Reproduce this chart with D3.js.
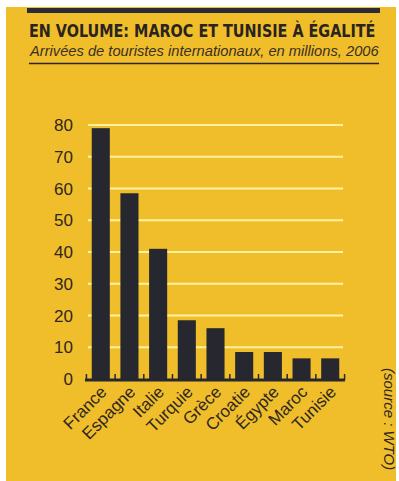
<!DOCTYPE html>
<html lang="fr">
<head>
<meta charset="UTF-8">
<script src="https://d3js.org/d3.v7.min.js"></script>
<style>
  body { margin: 0; background: #fff; }
  svg { display: block; }
</style>
</head>
<body>
<svg id="chart"></svg>
<script>
const countries = ["France", "Espagne", "Italie", "Turquie", "Grèce", "Croatie", "Égypte", "Maroc", "Tunisie"];
const arrivals = [79, 58.5, 41, 18.5, 16, 8.5, 8.5, 6.5, 6.5];
const yTicks = [0, 10, 20, 30, 40, 50, 60, 70, 80];

const w = 399, h = 481;
const svg = d3.select("#chart").attr("width", w).attr("height", h);

// yellow panel
svg.append("rect")
   .attr("x", 6).attr("y", 7).attr("width", w - 9).attr("height", h - 7)
   .attr("fill", "#f0be2b");

// header
svg.append("rect")
   .attr("x", 27).attr("y", 8).attr("width", 353).attr("height", 5)
   .attr("fill", "#2b2b35");
svg.append("text")
   .attr("transform", "translate(29,37) scale(1.0,1.12)")
   .style("font-family", "'DejaVu Sans Condensed', 'Liberation Sans Narrow', sans-serif")
   .style("font-weight", "bold").style("font-size", "16px")
   .attr("fill", "#2a231f")
   .text("EN VOLUME: MAROC ET TUNISIE À ÉGALITÉ");
svg.append("text")
   .attr("transform", "translate(30,56) scale(1.05,1)")
   .style("font-family", "'Liberation Sans', Arial, sans-serif")
   .style("font-style", "italic").style("font-size", "14px")
   .attr("fill", "#3a2f22")
   .text("Arrivées de touristes internationaux, en millions, 2006");
svg.append("line")
   .attr("x1", 29).attr("x2", 379).attr("y1", 63.5).attr("y2", 63.5)
   .attr("stroke", "#2b2622").attr("stroke-width", 1.5);

const x = d3.scaleBand().domain(countries).range([86, 345])
            .paddingInner(0.37).paddingOuter(0.2);
const y = d3.scaleLinear().domain([0, 80]).range([379, 125]);

// gridlines
svg.append("g").selectAll("line")
   .data(yTicks.filter(d => d > 0))
   .join("line")
   .attr("x1", 88).attr("x2", 343)
   .attr("y1", d => y(d)).attr("y2", d => y(d))
   .attr("stroke", "#fff3a0").attr("stroke-width", 2);

// y labels
svg.append("g").selectAll("text")
   .data(yTicks)
   .join("text")
   .attr("x", 73).attr("y", d => y(d) + 6)
   .attr("text-anchor", "end")
   .style("font-family", "'Liberation Sans', Arial, sans-serif")
   .style("font-size", "17px")
   .attr("fill", "#2f2620")
   .text(d => d);

// bars
svg.append("g").selectAll("rect")
   .data(countries)
   .join("rect")
   .attr("x", d => x(d))
   .attr("width", x.bandwidth())
   .attr("y", (d, i) => y(arrivals[i]))
   .attr("height", (d, i) => y(0) - y(arrivals[i]))
   .attr("fill", "#26272f");

// baseline with small ticks between bars
const gap = x.step() * x.paddingInner();
const tickPos = countries.map(d => x(d) - gap / 2).concat([x(countries[countries.length - 1]) + x.bandwidth() + gap / 2]);
svg.append("line")
   .attr("x1", 85).attr("x2", 345).attr("y1", y(0) + 1).attr("y2", y(0) + 1)
   .attr("stroke", "#26272f").attr("stroke-width", 3);
svg.append("g").selectAll("line")
   .data(tickPos)
   .join("line")
   .attr("x1", d => d).attr("x2", d => d)
   .attr("y1", y(0) + 1).attr("y2", y(0) - 5)
   .attr("stroke", "#26272f").attr("stroke-width", 1.5);

// category labels
svg.append("g").selectAll("text")
   .data(countries)
   .join("text")
   .attr("transform", d => `translate(${x(d) + x.bandwidth() / 2 + 7},${y(0) + 14}) rotate(-45)`)
   .attr("text-anchor", "end")
   .style("font-family", "'Liberation Sans', Arial, sans-serif")
   .style("font-size", "17px")
   .attr("fill", "#2f2620")
   .text(d => d);

// source
svg.append("text")
   .attr("transform", "translate(384,368) rotate(90)")
   .style("font-family", "'Liberation Sans', Arial, sans-serif")
   .style("font-style", "italic").style("font-size", "15px")
   .attr("fill", "#2f2620")
   .text("(source : WTO)");
</script>
</body>
</html>
